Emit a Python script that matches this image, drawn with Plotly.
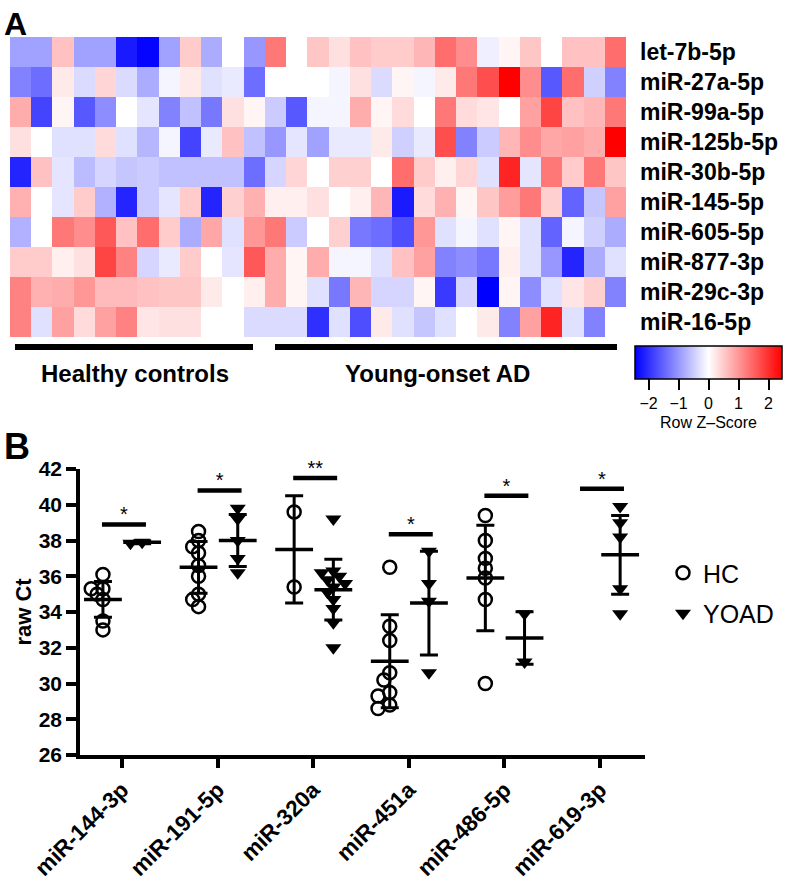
import numpy as np
import plotly.graph_objects as go

# ---------------- Panel A data (row Z-scores) ----------------
mirna_rows = ["let-7b-5p", "miR-27a-5p", "miR-99a-5p", "miR-125b-5p", "miR-30b-5p",
              "miR-145-5p", "miR-605-5p", "miR-877-3p", "miR-29c-3p", "miR-16-5p"]

z_let7b = [-0.9, -0.9, 0.6, -0.9, -0.9, -2.2, -2.4, -0.9, 0.5, -0.8, 0, -1.0, 1.3, 0, 0.55,
           0.3, 0.6, 0.5, 0.5, 0.7, 1.4, 1.1, -0.15, 0.1, 0.55, 0, 0.6, 0.6, 1.4]
z_27a = [-1.2, -1.4, 0.2, -0.35, 0.4, -0.35, -0.8, -0.1, 0.2, -0.3, -0.2, -1.4, 0, 0, 0,
         -0.1, 0.3, -0.35, 0.1, -0.1, 0.2, 1.3, 1.7, 2.45, 1.1, -1.6, 1.4, -0.45, -1.2]
z_99a = [0.8, -1.8, 0.1, -1.6, -1.1, 0, -0.25, -1.2, -0.6, -1.3, 0.3, 0.1, -0.5, -1.6, -0.1,
         -0.1, 0.8, 0.1, 0.35, 0, 1.3, 0.35, 0.25, 0, 0.9, 1.8, 0.6, 0.7, 1.3]
z_125b = [0.3, 0, -0.3, -0.3, 0.35, -0.3, -0.7, -0.1, -1.8, -0.2, 0.6, -0.6, -1.0, -0.25, -0.9,
          -0.2, -0.2, 0.2, -0.45, -0.2, 1.7, -1.2, -0.5, 0.7, 1.1, 0.85, 0.9, 0.8, 2.45]
z_30b = [-2.1, 0.6, -0.25, -0.65, -0.4, -0.55, -0.5, -0.6, -0.6, -0.6, -0.6, -1.4, -0.4, 0.4, 0,
         0.45, 0.45, 0, 1.4, 0.5, 0.15, 0.4, -0.3, 2.1, -0.25, 1.3, 0.5, 1.3, 0.55]
z_145 = [0.75, 0, -0.25, 0.5, -0.75, -2.1, -0.5, -0.25, 0.5, -2.1, 0.45, 0.75, 0.15, 0.15, 0.3,
         0, 0.15, 0.7, -2.2, 0.35, 0.75, 0.1, 0.55, 0.95, 1.3, 0.45, -1.5, -0.55, 0.9]
z_605 = [-0.75, 0, 1.3, 1.1, 1.6, 0.6, 1.4, 0.5, -0.8, 0.85, -0.3, 1.0, 1.3, -0.5, 0,
         0.45, -1.3, -1.4, -1.7, 1.0, -0.3, -0.1, -0.3, 0.1, -0.3, -1.5, -0.1, -0.45, -0.8]
z_877 = [0.5, 0.5, 0.15, 0.3, 1.8, 1.2, -0.4, -0.2, 0.5, 0, -0.25, 1.6, 0.8, 0.1, 0.8,
         -0.1, -0.1, -0.3, 0.6, 0.9, -1.2, -1.1, -1.3, 0.15, -0.3, -1.0, -2.1, -0.8, -0.3]
z_29c = [1.2, 0.75, 0.8, 1.0, 0.65, 0.65, 0.6, 0.55, 0.55, 0.2, 0, 0.15, 0.8, 0.1, -0.3,
         -1.3, 0.7, -0.4, -0.4, 0.1, -1.9, -0.4, -2.45, 0.1, -1.1, -0.3, 0.25, 0.45, -1.2]
z_16 = [1.2, -0.3, 0.9, 0.35, 0.9, 1.2, 0.25, 0.3, 0.3, 0, 0, -0.35, -0.35, -0.35, -2.0,
        -0.3, -1.7, 0.2, -0.3, -0.55, -0.3, 0, 0.2, -1.2, 0.9, 2.1, -0.3, -1.2, 0]

colorbar_ticks = [-2, -1, 0, 1, 2]

# ---------------- Panel B data (raw Ct) ----------------
b_categories = ["miR-144-3p", "miR-191-5p", "miR-320a", "miR-451a", "miR-486-5p", "miR-619-3p"]
hc_values = [
    [36.1, 35.3, 35.3, 35.0, 34.7, 33.5, 33.0],
    [38.5, 38.0, 37.65, 37.3, 36.6, 36.0, 35.0, 34.7, 34.3],
    [39.6, 35.4],
    [36.5, 33.2, 32.4, 30.6, 30.2, 29.5, 29.3, 28.8, 28.6],
    [39.4, 38.0, 37.0, 36.45, 35.9, 34.7, 30.0],
    [],
]
yoad_values = [
    [37.9, 37.85],
    [39.8, 39.2, 38.0, 37.0, 36.2],
    [39.2, 36.3, 36.2, 36.0, 35.8, 35.6, 35.4, 35.1, 34.7, 34.2, 33.4, 32.0],
    [37.4, 35.6, 34.6, 30.6],
    [33.9, 31.2],
    [39.9, 39.0, 38.2, 35.3, 33.9],
]
hc_mean = [34.7, 36.5, 37.5, 31.25, 35.9, None]
hc_sd = [1.0, 1.45, 3.0, 2.6, 2.95, None]
yoad_mean = [37.9, 38.0, 35.25, 34.5, 32.55, 37.2]
yoad_sd = [0.08, 1.45, 1.7, 2.9, 1.47, 2.2]
sig_labels = ["*", "*", "**", "*", "*", "*"]
sig_levels = [38.9, 40.8, 41.5, 38.35, 40.5, 40.9]
y_ticks = [26, 28, 30, 32, 34, 36, 38, 40, 42]

# ---------------- layout helpers ----------------
W, H = 788, 883
def px(x):
    return x / W
def py(y):
    return 1 - y / H

FONT = "Liberation Sans, Arial, Helvetica, sans-serif"
HC_OFF, YO_OFF = -0.2, 0.21
X_PX_PER_UNIT = (645 - 80) / (5.47 + 0.44)
Y_PX_PER_UNIT = (755 - 469) / 16.0


def swarm(vals, diam=13.0):
    """Simple beeswarm: horizontal offsets (category units) so markers overlap little."""
    order = np.argsort(vals)[::-1]
    placed = []
    offs = np.zeros(len(vals))
    steps = [0, -1, 1, -2, 2, -3, 3]
    for i in order:
        yv = vals[i] * Y_PX_PER_UNIT
        for s in steps:
            xp = s * diam * 0.45
            if all((xp - a) ** 2 + (yv - b) ** 2 >= (diam * 0.6) ** 2 for a, b in placed):
                break
        placed.append((xp, yv))
        offs[i] = xp / X_PX_PER_UNIT
    return offs


fig = go.Figure()

# ---------------- Panel A heatmap ----------------
zmat = [z_let7b, z_27a, z_99a, z_125b, z_30b, z_145, z_605, z_877, z_29c, z_16]
fig.add_trace(go.Heatmap(
    z=zmat, x=list(range(len(z_let7b))), y=mirna_rows,
    colorscale=[[0, "rgb(0,0,255)"], [0.5, "rgb(255,255,255)"], [1, "rgb(255,0,0)"]],
    zmin=-2.45, zmax=2.45, xaxis="x", yaxis="y", hoverinfo="skip",
    colorbar=dict(orientation="h", x=px(708.5), xanchor="center", y=py(346), yanchor="top",
                  lenmode="pixels", len=147, thickness=33, outlinewidth=1.5, outlinecolor="black",
                  ticks="outside", ticklen=11, tickwidth=1.5, tickcolor="black",
                  tickvals=colorbar_ticks, tickfont=dict(family=FONT, size=16, color="black"),
                  title=dict(text="Row Z\u2013Score", side="bottom",
                             font=dict(family=FONT, size=16, color="black")),
                  xpad=0, ypad=0),
))

# ---------------- Panel B ----------------
xs_hc, ys_hc, xs_yo, ys_yo = [], [], [], []
for i, (h, y) in enumerate(zip(hc_values, yoad_values)):
    if h:
        xs_hc += list(i + HC_OFF + swarm(np.array(h)))
        ys_hc += h
    if y:
        xs_yo += list(i + YO_OFF + swarm(np.array(y)))
        ys_yo += y

# mean & SD
mx_hc = [i + HC_OFF for i, m in enumerate(hc_mean) if m is not None]
my_hc = [m for m in hc_mean if m is not None]
sd_hc = [s for s in hc_sd if s is not None]
mx_yo = [i + YO_OFF for i in range(len(yoad_mean))]
for mx, my, sd in [(mx_hc, my_hc, sd_hc), (mx_yo, yoad_mean, yoad_sd)]:
    fig.add_trace(go.Scatter(
        x=mx, y=my, mode="markers", xaxis="x2", yaxis="y2", showlegend=False,
        marker=dict(symbol="line-ew-open", size=27, color="black", line=dict(width=3.5, color="black")),
        error_y=dict(type="data", array=sd, visible=True, thickness=3, width=9, color="black"),
        hoverinfo="skip"))

fig.add_trace(go.Scatter(
    x=xs_hc, y=ys_hc, mode="markers", name="HC", xaxis="x2", yaxis="y2",
    marker=dict(symbol="circle-open", size=13, color="black", line=dict(width=2.5, color="black")),
    legendgroup="hc"))
fig.add_trace(go.Scatter(
    x=xs_yo, y=ys_yo, mode="markers", name="YOAD", xaxis="x2", yaxis="y2",
    marker=dict(symbol="triangle-down", size=14, color="black"),
    legendgroup="yoad"))

# significance bars
sx, sy = [], []
for i, lvl in enumerate(sig_levels):
    sx += [i - 0.21, i + 0.25, None]
    sy += [lvl, lvl, None]
fig.add_trace(go.Scatter(x=sx, y=sy, mode="lines", xaxis="x2", yaxis="y2", showlegend=False,
                         line=dict(color="black", width=4.5), hoverinfo="skip", cliponaxis=False))
fig.add_trace(go.Scatter(x=[i + 0.02 for i in range(len(sig_levels))],
                         y=[l + 0.45 for l in sig_levels], text=sig_labels, mode="text",
                         xaxis="x2", yaxis="y2", showlegend=False, hoverinfo="skip",
                         cliponaxis=False,
                         textfont=dict(family=FONT, size=20, color="black")))

# ---------------- Layout ----------------
fig.update_layout(
    width=W, height=H, margin=dict(l=0, r=0, t=0, b=0),
    paper_bgcolor="white", plot_bgcolor="white", template="none",
    font=dict(family=FONT, color="black"),
    xaxis=dict(domain=[px(10), px(626)], showticklabels=False, showgrid=False, zeroline=False,
               ticks="", showline=False, range=[-0.5, len(z_let7b) - 0.5]),
    yaxis=dict(domain=[py(337), py(37)], side="right", autorange="reversed", showgrid=False,
               zeroline=False, ticks="", showline=False, ticklabelstandoff=13,
               tickfont=dict(family=FONT, size=23, color="black", weight="bold")),
    xaxis2=dict(domain=[px(80), px(645)], anchor="y2", range=[-0.44, 5.47],
                tickvals=list(range(len(b_categories))), ticktext=b_categories, tickangle=-45,
                ticks="outside", ticklen=9, tickwidth=3.5, tickcolor="black",
                showline=True, linewidth=3.5, linecolor="black", showgrid=False, zeroline=False,
                tickfont=dict(family=FONT, size=22.5, color="black", weight="bold")),
    yaxis2=dict(domain=[py(755), py(469)], anchor="x2", range=[26, 42], tickvals=y_ticks,
                ticks="outside", ticklen=10, tickwidth=3.5, tickcolor="black",
                showline=True, linewidth=3.5, linecolor="black", showgrid=False, zeroline=False,
                tickfont=dict(family=FONT, size=21, color="black", weight="bold"),
                title=dict(text="raw Ct", standoff=2,
                           font=dict(family=FONT, size=22, color="black", weight="bold"))),
    legend=dict(x=px(663), y=py(550), xanchor="left", yanchor="top", traceorder="grouped",
                tracegroupgap=5, bgcolor="rgba(0,0,0,0)",
                font=dict(family=FONT, size=25, color="black")),
    shapes=[
        dict(type="line", xref="paper", yref="paper", x0=px(15), x1=px(253), y0=py(347), y1=py(347),
             line=dict(color="black", width=6)),
        dict(type="line", xref="paper", yref="paper", x0=px(275), x1=px(617), y0=py(347), y1=py(347),
             line=dict(color="black", width=6)),
    ],
    annotations=[
        dict(text="A", xref="paper", yref="paper", x=px(2), y=py(4), xanchor="left", yanchor="top",
             showarrow=False, font=dict(family=FONT, size=32, weight="bold", color="black")),
        dict(text="B", xref="paper", yref="paper", x=px(2), y=py(424), xanchor="left", yanchor="top",
             showarrow=False, font=dict(family=FONT, size=36, weight="bold", color="black")),
        dict(text="Healthy controls", xref="paper", yref="paper", x=px(135), y=py(373),
             xanchor="center", yanchor="middle", showarrow=False,
             font=dict(family=FONT, size=24, weight="bold", color="black")),
        dict(text="Young-onset AD", xref="paper", yref="paper", x=px(438), y=py(373),
             xanchor="center", yanchor="middle", showarrow=False,
             font=dict(family=FONT, size=24, weight="bold", color="black")),
    ],
)

fig.write_html("out.html", config={"displayModeBar": False},
               post_script="document.body.style.margin='0';")
